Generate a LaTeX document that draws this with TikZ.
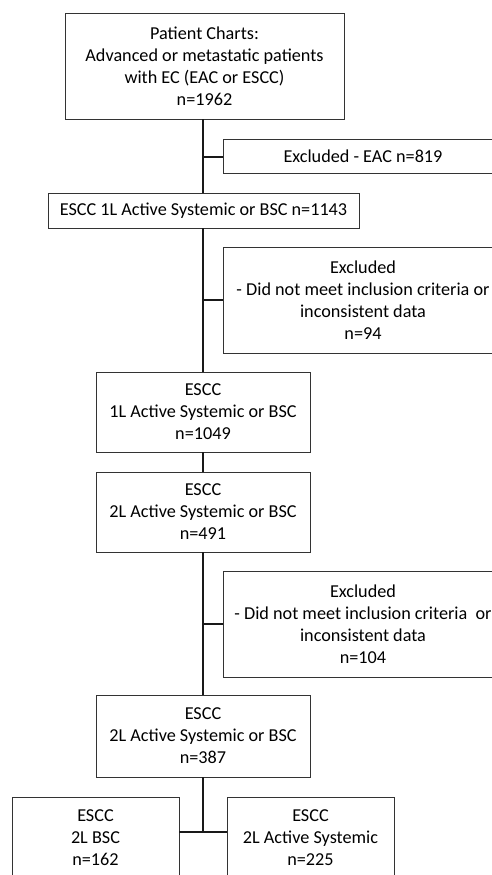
\documentclass[tikz,border=0pt]{standalone}
\usepackage{fontspec}
\setmainfont{Carlito}
\usetikzlibrary{positioning}
\tikzset{
  box/.style={draw=black!80, line width=0.9pt, fill=white, align=center,
              inner sep=0pt, font=\fontsize{18.2}{22}\selectfont},
  link/.style={draw=black!90, line width=2pt}
}
\begin{document}
\begin{tikzpicture}[x=1pt, y=-1pt]
      \useasboundingbox (0, 0) rectangle (492, 875);
      \clip (0, 0) rectangle (492, 875);
      % main column
      \node (charts) [box, minimum width=279, minimum height=106] at (204.5, 66)
            {Patient Charts:\\Advanced or metastatic patients\\with EC (EAC or ESCC)\\n=1962};
      \node (escc1) [box, minimum width=311, minimum height=35] at (203.5, 210.5)
            {ESCC 1L Active Systemic or BSC n=1143};
      \node (n1049) [box, minimum width=214, minimum height=80] at (203, 412)
            {ESCC\\1L Active Systemic or BSC\\n=1049};
      \node (n491) [box, minimum width=214, minimum height=80] at (203, 512)
            {ESCC\\2L Active Systemic or BSC\\n=491};
      \node (n387) [box, minimum width=214, minimum height=82] at (203, 736)
            {ESCC\\2L Active Systemic or BSC\\n=387};
      % exclusions
      \node (exEAC) [box, minimum width=280, minimum height=34] at (363, 156.5)
            {Excluded - EAC n=819};
      \node (exA) [box, minimum width=280, minimum height=106] at (363, 300)
            {Excluded\\- Did not meet inclusion criteria or\\inconsistent data\\n=94};
      \node (exB) [box, minimum width=280, minimum height=106] at (363, 624)
            {Excluded\\- Did not meet inclusion criteria \ or\\inconsistent data\\n=104};
      % split
      \node (bsc) [box, minimum width=167, minimum height=82] at (95.5, 838)
            {ESCC\\2L BSC\\n=162};
      \node (active) [box, minimum width=167, minimum height=82] at (310.5, 838)
            {ESCC\\2L Active Systemic\\n=225};
      \coordinate (split) at (203, 832);
      % connectors
      \draw [link] (203, 0 |- charts.south) -- (203, 0 |- escc1.north);
      \draw [link] (203, 0 |- escc1.south) -- (203, 0 |- n1049.north);
      \draw [link] (n1049.south) -- (n491.north);
      \draw [link] (n491.south) -- (n387.north);
      \draw [link] (n387.south) -- (split);
      \draw [link] (exEAC.west) -- (exEAC.west -| split);
      \draw [link] (exA.west) -- (exA.west -| split);
      \draw [link] (exB.west) -- (exB.west -| split);
      \draw [link] (bsc.east |- split) -- (active.west |- split);
\end{tikzpicture}
\end{document}
